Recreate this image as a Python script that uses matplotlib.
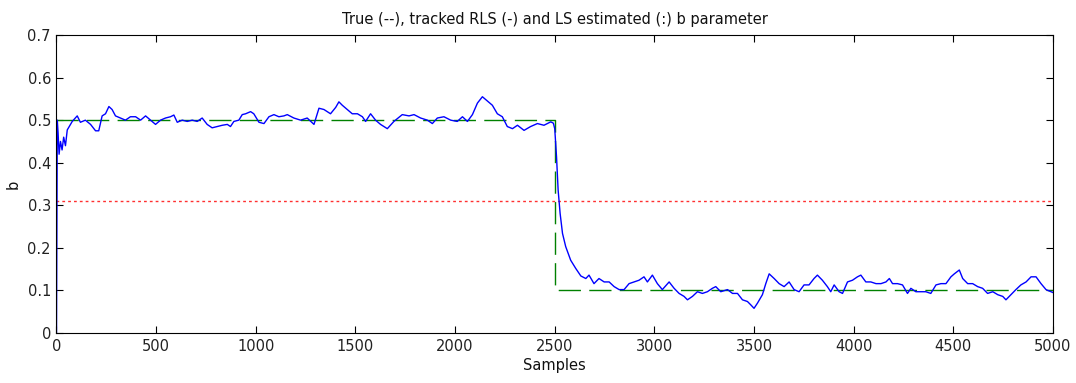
import matplotlib
matplotlib.use("Agg")
import matplotlib.pyplot as plt

# RLS tracked estimate of b (sample, value)
rls_samples = [0, 4, 8, 13, 20, 28, 36, 45, 54, 79, 104, 120, 145, 171, 196, 212, 229, 246, 263, 279,
               296, 321, 346, 371, 397, 422, 447, 472, 497, 522, 547, 572, 589, 606, 631, 656, 681, 706,
               731, 756, 781, 806, 832, 857, 873, 890, 915, 932, 949, 974, 990, 1016, 1041, 1066, 1091,
               1116, 1141, 1158, 1191, 1225, 1258, 1292, 1317, 1342, 1375, 1401, 1417, 1434, 1459, 1484,
               1510, 1535, 1551, 1576, 1601, 1626, 1660, 1693, 1735, 1769, 1794, 1827, 1861, 1886, 1911,
               1944, 1978, 2011, 2037, 2062, 2087, 2112, 2137, 2162, 2187, 2212, 2237, 2262, 2288, 2313,
               2346, 2379, 2413, 2446, 2480, 2493, 2500, 2509, 2517, 2527, 2539, 2555, 2580, 2605, 2631,
               2656, 2672, 2697, 2722, 2748, 2773, 2798, 2823, 2848, 2873, 2898, 2923, 2948, 2965, 2990,
               3015, 3040, 3074, 3099, 3124, 3149, 3166, 3191, 3216, 3241, 3266, 3291, 3308, 3333, 3367,
               3392, 3417, 3442, 3467, 3484, 3500, 3517, 3542, 3559, 3576, 3601, 3626, 3651, 3676, 3701,
               3726, 3751, 3776, 3801, 3818, 3843, 3868, 3885, 3902, 3927, 3944, 3969, 3994, 4019, 4036,
               4061, 4086, 4112, 4137, 4162, 4179, 4195, 4220, 4245, 4270, 4287, 4312, 4337, 4362, 4387,
               4413, 4438, 4463, 4488, 4505, 4530, 4547, 4572, 4597, 4622, 4647, 4672, 4698, 4723, 4748,
               4764, 4789, 4814, 4839, 4865, 4890, 4915, 4940, 4965, 4990, 5000]
rls_values = [0.0, 0.50, 0.47, 0.42, 0.45, 0.43, 0.46, 0.44, 0.477, 0.497, 0.51, 0.495, 0.50, 0.49, 0.475,
              0.475, 0.51, 0.515, 0.532, 0.525, 0.51, 0.505, 0.50, 0.508, 0.508, 0.50, 0.51, 0.50, 0.49,
              0.50, 0.505, 0.508, 0.512, 0.495, 0.50, 0.497, 0.50, 0.497, 0.505, 0.49, 0.482, 0.485, 0.488,
              0.49, 0.485, 0.497, 0.50, 0.513, 0.515, 0.52, 0.515, 0.495, 0.492, 0.508, 0.513, 0.508, 0.51,
              0.513, 0.505, 0.50, 0.505, 0.49, 0.528, 0.525, 0.515, 0.53, 0.543, 0.535, 0.525, 0.515, 0.515,
              0.508, 0.497, 0.515, 0.50, 0.49, 0.48, 0.497, 0.513, 0.51, 0.513, 0.505, 0.50, 0.492, 0.505,
              0.508, 0.50, 0.497, 0.508, 0.497, 0.513, 0.54, 0.555, 0.545, 0.535, 0.515, 0.508, 0.485, 0.48,
              0.488, 0.476, 0.485, 0.492, 0.488, 0.496, 0.493, 0.48, 0.414, 0.336, 0.281, 0.234, 0.203,
              0.171, 0.152, 0.134, 0.128, 0.136, 0.116, 0.128, 0.12, 0.12, 0.109, 0.102, 0.102, 0.116, 0.12,
              0.124, 0.132, 0.12, 0.136, 0.116, 0.102, 0.12, 0.105, 0.093, 0.086, 0.078, 0.086, 0.097,
              0.093, 0.097, 0.105, 0.109, 0.097, 0.102, 0.093, 0.093, 0.078, 0.074, 0.066, 0.058, 0.07,
              0.09, 0.116, 0.139, 0.128, 0.116, 0.109, 0.12, 0.102, 0.097, 0.113, 0.113, 0.128, 0.136,
              0.124, 0.109, 0.097, 0.113, 0.097, 0.093, 0.12, 0.124, 0.132, 0.136, 0.12, 0.12, 0.116,
              0.116, 0.12, 0.128, 0.116, 0.116, 0.113, 0.093, 0.105, 0.097, 0.097, 0.097, 0.093, 0.113,
              0.116, 0.116, 0.132, 0.139, 0.148, 0.128, 0.116, 0.116, 0.109, 0.105, 0.093, 0.097, 0.09,
              0.086, 0.078, 0.09, 0.102, 0.113, 0.12, 0.132, 0.132, 0.116, 0.102, 0.097, 0.095]

# True parameter
true_samples = [0, 2500, 2500, 5000]
true_values = [0.5, 0.5, 0.1, 0.1]

# LS estimate (constant)
ls_samples = [0, 5000]
ls_values = [0.31, 0.31]

x_ticks = [0, 500, 1000, 1500, 2000, 2500, 3000, 3500, 4000, 4500, 5000]
y_ticks = [0, 0.1, 0.2, 0.3, 0.4, 0.5, 0.6, 0.7]

plt.rcParams['font.family'] = ['DejaVu Sans']

fig = plt.figure(figsize=(10.76, 3.83), dpi=100)
ax = fig.add_axes([0.0525, 0.1305, 0.9261, 0.7781])

ax.plot(true_samples, true_values, color='#008000', lw=1.0, dashes=(16, 6))
ax.plot(ls_samples, ls_values, color='#ff3030', lw=1.0, dashes=(2, 2.2))
ax.plot(rls_samples, rls_values, color='#0000ff', lw=1.0)

ax.set_xlim(0, 5000)
ax.set_ylim(0, 0.7)
ax.set_xticks(x_ticks)
ax.set_yticks(y_ticks)
ax.set_yticklabels(['0', '0.1', '0.2', '0.3', '0.4', '0.5', '0.6', '0.7'])
ax.tick_params(direction='in', length=5, width=0.8, top=True, right=True, labelsize=10.5, pad=4,
               labelcolor='#222222')
for s in ax.spines.values():
    s.set_linewidth(0.8)

ax.set_title('True (--), tracked RLS (-) and LS estimated (:) b parameter', fontsize=10.5, pad=8,
             color='#111111')
ax.set_xlabel('Samples', fontsize=10.5, labelpad=3, color='#111111')
ax.set_ylabel('b', fontsize=10.5, labelpad=5, color='#111111')

fig.savefig('out.png', dpi=100)
